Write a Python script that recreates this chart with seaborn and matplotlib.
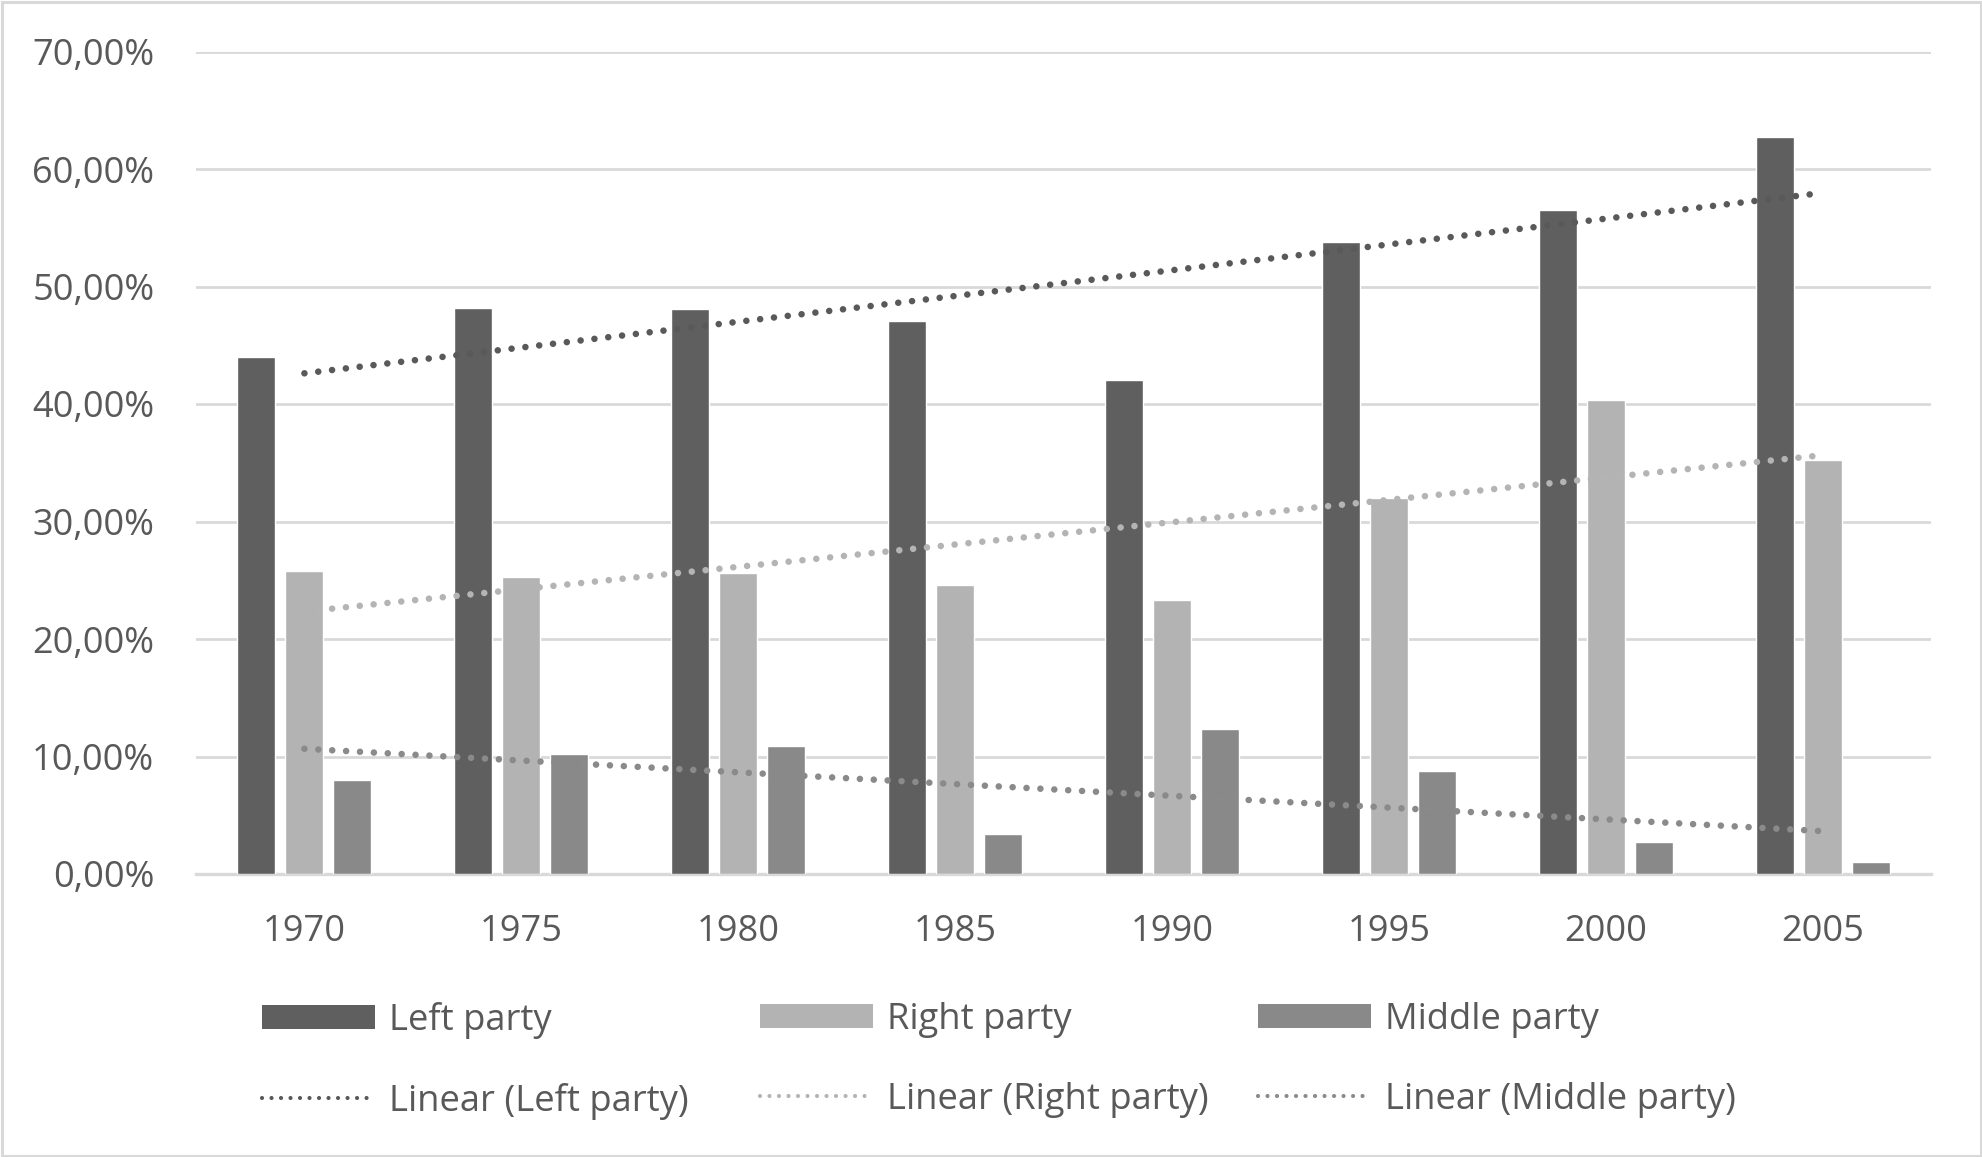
import numpy as np
import pandas as pd
import matplotlib
matplotlib.use("Agg")
import matplotlib.pyplot as plt
import seaborn as sns
from matplotlib.lines import Line2D
from matplotlib.patches import Patch, Rectangle
from matplotlib.ticker import FuncFormatter, MultipleLocator

# ---- data (percent) ----
years = ["1970", "1975", "1980", "1985", "1990", "1995", "2000", "2005"]
left_party = [44.0, 48.2, 48.1, 47.05, 42.03, 53.75, 56.47, 62.71]
right_party = [25.75, 25.24, 25.58, 24.56, 23.29, 31.96, 40.33, 35.22]
middle_party = [8.0, 10.21, 10.89, 3.37, 12.31, 8.76, 2.69, 0.99]
series_names = ["Left party", "Right party", "Middle party"]
trend_names = ["Linear (Left party)", "Linear (Right party)", "Linear (Middle party)"]

bar_colors = ["#5f5f5f", "#b3b3b3", "#898989"]
trend_colors = ["#595959", "#b4b4b4", "#8a8a8a"]
text_color = "#595959"
grid_color = "#d9d9d9"

sns.set_theme(style="white")
plt.rcParams["font.family"] = ["Open Sans", "DejaVu Sans"]

df = pd.DataFrame({
    "year": years * 3,
    "party": [series_names[0]] * 8 + [series_names[1]] * 8 + [series_names[2]] * 8,
    "value": left_party + right_party + middle_party,
})

W, H = 1982, 1157
PX = 72 / 100  # points per pixel
fig = plt.figure(figsize=(W / 100, H / 100), dpi=100)
ax = fig.add_axes([196 / W, 1 - 874 / H, (1931 - 196) / W, (874 - 51.5) / H])

sns.barplot(data=df, x="year", y="value", hue="party", order=years,
            hue_order=series_names, palette=bar_colors, width=0.664, gap=0.21,
            saturation=1, ax=ax, legend=False, zorder=3, errorbar=None)

# linear trendlines
xs = np.arange(len(years))
lw_px = 6.6
for vals, col in zip([left_party, right_party, middle_party], trend_colors):
    k, b = np.polyfit(xs, vals, 1)
    ax.plot(xs, k * xs + b, color=col, lw=lw_px * PX, dashes=(0.001, 13.9 / lw_px),
            dash_capstyle="round", zorder=4)

ax.set_ylim(0, 70)
ax.set_xlim(-0.5, len(years) - 0.5)
ax.yaxis.set_major_locator(MultipleLocator(10))
ax.yaxis.set_major_formatter(FuncFormatter(lambda v, p: f"{v:.2f}%".replace(".", ",")))
ax.grid(axis="y", color=grid_color, lw=2.0, zorder=0)
ax.grid(axis="x", visible=False)
ax.set_axisbelow(True)
for s in ["top", "right", "left"]:
    ax.spines[s].set_visible(False)
ax.spines["bottom"].set_color(grid_color)
ax.spines["bottom"].set_linewidth(2.4)
ax.set_xlabel("")
ax.set_ylabel("")
ax.tick_params(axis="both", length=0, labelsize=26, colors=text_color)
ax.tick_params(axis="y", pad=30)
ax.tick_params(axis="x", pad=29)

# legends, one per column
col_x = [262, 760, 1258]
hl_px = 4.2
for i in range(3):
    handles = [
        Patch(facecolor=bar_colors[i], edgecolor="none"),
        Line2D([0], [0], color=trend_colors[i], lw=hl_px * PX, dashes=(0.001, 9.5 / hl_px),
               dash_capstyle="round"),
    ]
    fig.legend(handles, [series_names[i], trend_names[i]],
               loc="upper left", bbox_to_anchor=(col_x[i] / W, 1 - 1002 / H),
               frameon=False, fontsize=26.2, handlelength=3.1, handleheight=0.62,
               handletextpad=0.40, labelspacing=1.2, borderpad=0, borderaxespad=0,
               labelcolor=text_color)

# chart border
fig.patches.append(Rectangle((1.5 / W, 1.5 / H), 1 - 3 / W, 1 - 3 / H,
                             transform=fig.transFigure, fill=False,
                             edgecolor=grid_color, lw=2.2))

fig.savefig("out.png", dpi=100, facecolor="white")
